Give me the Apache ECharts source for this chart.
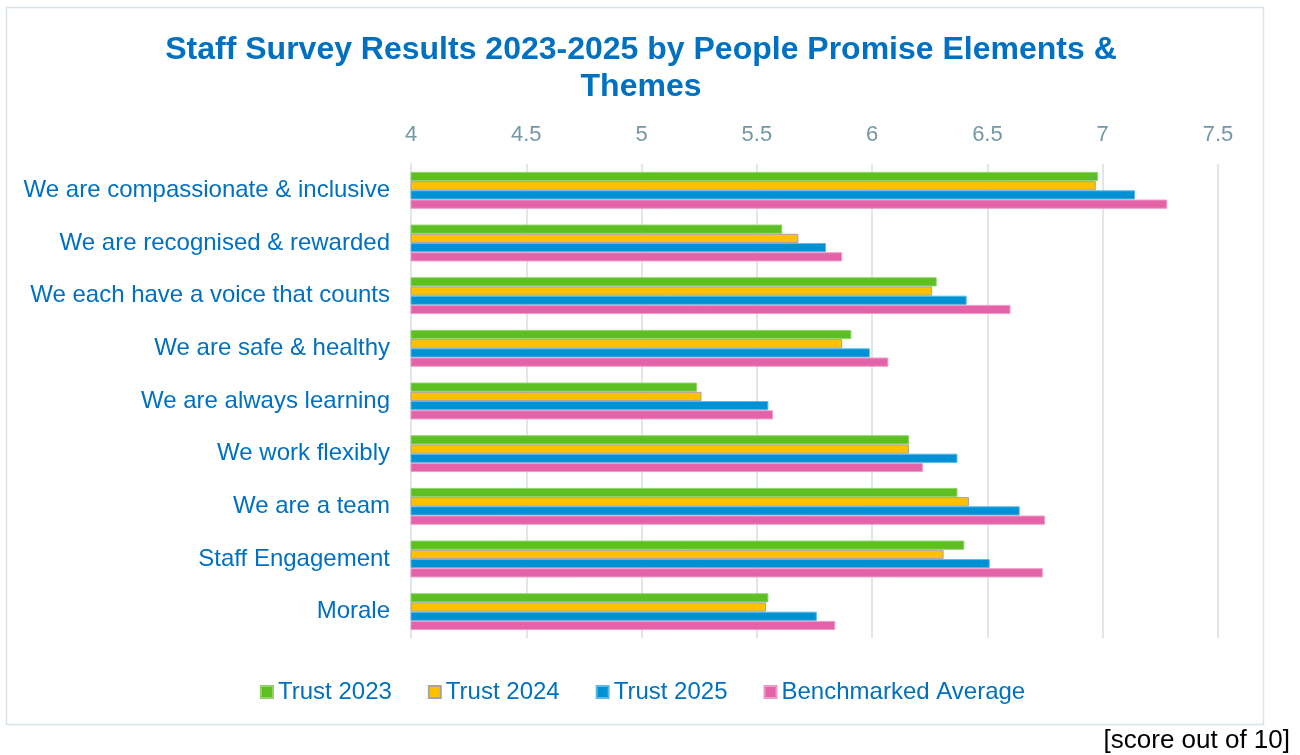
<!DOCTYPE html>
<html>
<head>
<meta charset="utf-8">
<script src="https://cdn.jsdelivr.net/npm/echarts@6/dist/echarts.min.js"></script>
<style>
html,body{margin:0;padding:0;background:#fff;}
#c{width:1300px;height:755px;}
</style>
</head>
<body>
<div id="c"></div>
<script>
const categories = [
  'We are compassionate & inclusive',
  'We are recognised & rewarded',
  'We each have a voice that counts',
  'We are safe & healthy',
  'We are always learning',
  'We work flexibly',
  'We are a team',
  'Staff Engagement',
  'Morale'
];
const seriesNames = ['Trust 2023', 'Trust 2024', 'Trust 2025', 'Benchmarked Average'];
const trust2023 = [6.98, 5.61, 6.28, 5.91, 5.24, 6.16, 6.37, 6.40, 5.55];
const trust2024 = [6.97, 5.68, 6.26, 5.87, 5.26, 6.16, 6.42, 6.31, 5.54];
const trust2025 = [7.14, 5.80, 6.41, 5.99, 5.55, 6.37, 6.64, 6.51, 5.76];
const benchmark = [7.28, 5.87, 6.60, 6.07, 5.57, 6.22, 6.75, 6.74, 5.84];
const xTicks = {min: 4, max: 7.5, interval: 0.5};

const colors = ['#5dbf22', '#ffc000', '#0090d4', '#e463a8'];
const borders = ['#8fd36a', '#a5a5a5', '#5cb8e6', '#ee9ac7'];
const dataSets = [trust2023, trust2024, trust2025, benchmark];
const FONT = '"Liberation Sans", Arial, sans-serif';

const chart = echarts.init(document.getElementById('c'));
chart.setOption({
  backgroundColor: '#ffffff',
  animation: false,
  graphic: [{
    type: 'rect',
    shape: {x: 6.5, y: 7.5, width: 1257, height: 717},
    style: {fill: 'none', stroke: '#d9e4ea', lineWidth: 1.5},
    silent: true
  }, {
    type: 'text',
    right: 10,
    top: 728,
    style: {text: '[score out of 10]', font: '26px "Liberation Sans", Arial, sans-serif', fill: '#000'}
  }],
  title: {
    text: 'Staff Survey Results 2023-2025 by People Promise Elements &\nThemes',
    left: 636,
    textAlign: 'center',
    top: 27,
    textStyle: {
      fontFamily: FONT,
      fontWeight: 'bold',
      fontSize: 32,
      lineHeight: 37,
      color: '#0070c0'
    }
  },
  legend: {
    data: seriesNames,
    left: 255,
    top: 675,
    itemWidth: 12,
    itemHeight: 12,
    itemGap: 36,
    icon: 'rect',
    textStyle: {
      fontFamily: FONT,
      fontSize: 24,
      color: '#0070c0'
    }
  },
  grid: {left: 411, right: 82, top: 164, bottom: 117, containLabel: false},
  xAxis: {
    type: 'value',
    position: 'top',
    min: xTicks.min,
    max: xTicks.max,
    interval: xTicks.interval,
    axisLine: {show: false},
    axisTick: {show: false},
    splitLine: {show: true, lineStyle: {color: '#dfe7ec', width: 2}},
    axisLabel: {
      fontFamily: FONT,
      fontSize: 22,
      color: '#7497a4',
      margin: 18
    }
  },
  yAxis: {
    type: 'category',
    data: categories,
    inverse: true,
    axisLine: {show: true, lineStyle: {color: '#dfe7ec', width: 2}},
    axisTick: {show: false},
    axisLabel: {
      fontFamily: FONT,
      fontSize: 24,
      color: '#0070c0',
      margin: 21
    }
  },
  series: seriesNames.map((n, i) => ({
    name: n,
    type: 'bar',
    data: dataSets[i],
    barCategoryGap: '30%',
    barGap: '0%',
    itemStyle: {color: colors[i], borderColor: borders[i], borderWidth: 1}
  }))
});
</script>
</body>
</html>
